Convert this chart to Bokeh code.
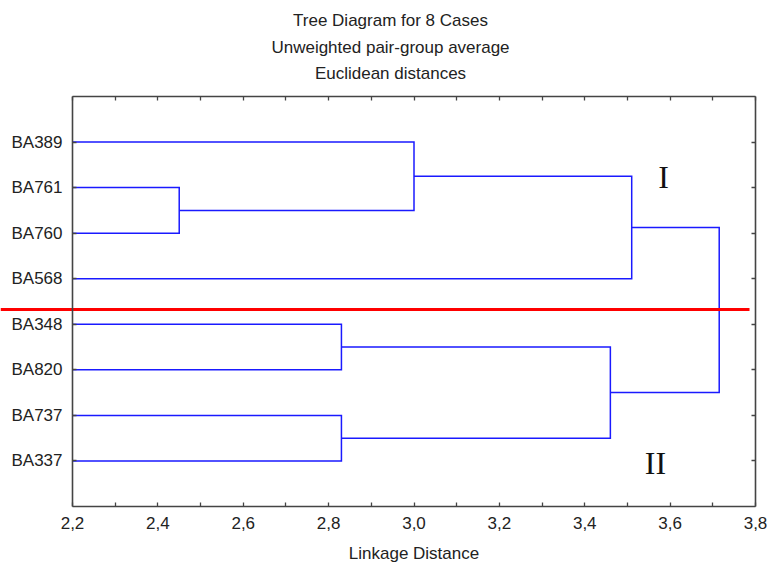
from bokeh.plotting import figure
from bokeh.models import LinearAxis, FixedTicker, Range1d
from bokeh.core.properties import value
from bokeh.embed import file_html
from bokeh.resources import INLINE

# ---------------- data ----------------
leaf_labels = ["BA389", "BA761", "BA760", "BA568", "BA348", "BA820", "BA737", "BA337"]
merge_names = ["C1", "C2", "C3", "C4", "C5", "C6", "C7"]
merge_left = ["BA761", "BA389", "C2", "BA348", "BA737", "C4", "C3"]
merge_right = ["BA760", "C1", "BA568", "BA820", "BA337", "C5", "C6"]
merge_height = [2.45, 3.00, 3.51, 2.83, 2.83, 3.46, 3.715]

x_ticks = [2.2, 2.4, 2.6, 2.8, 3.0, 3.2, 3.4, 3.6, 3.8]
x_tick_labels = ["2,2", "2,4", "2,6", "2,8", "3,0", "3,2", "3,4", "3,6", "3,8"]
x_minor_ticks = [2.3, 2.5, 2.7, 2.9, 3.1, 3.3, 3.5, 3.7]

title_lines = ["Tree Diagram for 8 Cases", "Unweighted pair-group average", "Euclidean distances"]
x_axis_title = "Linkage Distance"
group_names = ["I", "II"]
cut_row = 4.325          # red cut line, in row units (between BA568 and BA348)

# ---------------- layout constants ----------------
W, H = 767, 565
X_MIN, X_MAX = 2.2, 3.8
px_left, px_right = 72, 755
px_top, px_bottom = 96, 506
n = len(leaf_labels)
Y_MIN, Y_MAX = 0, n + 1

xs_per_px = (X_MAX - X_MIN) / (px_right - px_left)
ys_per_px = (Y_MAX - Y_MIN) / (px_bottom - px_top)
x_start = X_MIN - px_left * xs_per_px
x_end = x_start + W * xs_per_px
y_start = Y_MIN - (H - px_bottom) * ys_per_px
y_end = Y_MAX + px_top * ys_per_px


def px_to_x(px):
    return x_start + px * xs_per_px


def py_to_y(py):
    return y_end - py * ys_per_px


p = figure(width=W, height=H, output_backend="svg", toolbar_location=None,
           x_range=Range1d(x_start, x_end), y_range=Range1d(y_start, y_end),
           x_axis_location=None, y_axis_location=None,
           min_border=0, min_border_left=0, min_border_right=0,
           min_border_top=0, min_border_bottom=0)
p.outline_line_color = None
p.xgrid.visible = False
p.ygrid.visible = False
p.background_fill_color = "white"
p.border_fill_color = "white"

FRAME = "#444444"
LABEL_FONT = "Liberation Sans"
FS = "17px"

# ---------------- axes (fixed inside the canvas) ----------------
leaf_pos = {lab: n - i for i, lab in enumerate(leaf_labels)}

xb = LinearAxis(fixed_location=Y_MIN, bounds=(X_MIN, X_MAX),
                ticker=FixedTicker(ticks=x_ticks, minor_ticks=x_minor_ticks),
                major_label_overrides={t: l for t, l in zip(x_ticks, x_tick_labels)},
                axis_label=x_axis_title)
xt = LinearAxis(fixed_location=Y_MAX, bounds=(X_MIN, X_MAX),
                ticker=FixedTicker(ticks=x_ticks, minor_ticks=x_minor_ticks))
yl = LinearAxis(fixed_location=X_MIN, bounds=(Y_MIN, Y_MAX),
                ticker=FixedTicker(ticks=[leaf_pos[l] for l in leaf_labels], minor_ticks=[]),
                major_label_overrides={leaf_pos[l]: l for l in leaf_labels})
yr = LinearAxis(fixed_location=X_MAX, bounds=(Y_MIN, Y_MAX),
                ticker=FixedTicker(ticks=[leaf_pos[l] for l in leaf_labels], minor_ticks=[]))

for ax in (xb, xt, yl, yr):
    ax.axis_line_color = FRAME
    ax.axis_line_width = 1.6
    ax.major_tick_line_color = FRAME
    ax.minor_tick_line_color = FRAME
    ax.major_tick_line_width = 1.3
    ax.minor_tick_line_width = 1.3
    ax.major_tick_in = 4
    ax.major_tick_out = 0
    ax.minor_tick_in = 4
    ax.minor_tick_out = 0
    ax.major_label_text_font = LABEL_FONT
    ax.major_label_text_color = "#222222"
    ax.major_label_text_font_size = FS
    ax.axis_label_text_font = LABEL_FONT
    ax.axis_label_text_font_style = "normal"
    ax.axis_label_text_font_size = FS
    ax.axis_label_text_color = "#222222"

for ax in (xt, yr):
    ax.major_label_text_color = None
    ax.major_label_text_font_size = "0px"

xb.major_label_standoff = 10
xb.axis_label_standoff = 12
yl.major_label_standoff = 10

p.add_layout(xb, "below")
p.add_layout(xt, "above")
p.add_layout(yl, "left")
p.add_layout(yr, "right")

# ---------------- dendrogram ----------------
pos = {lab: (leaf_pos[lab], X_MIN) for lab in leaf_labels}
paths_x, paths_y = [], []
for name, a, b, h in zip(merge_names, merge_left, merge_right, merge_height):
    ya, ha = pos[a]
    yb, hb = pos[b]
    paths_x.append([ha, h, h, hb])
    paths_y.append([ya, ya, yb, yb])
    pos[name] = ((ya + yb) / 2, h)

p.multi_line(xs=paths_x, ys=paths_y, line_color="#1a1aff", line_width=1.5,
             line_join="miter")

# cut line (extends across the label area up to the right frame)
p.line(x=[x_start, px_to_x(749)], y=[cut_row, cut_row], line_color="#ff0000", line_width=3)

# group labels
p.text(x=[px_to_x(663), px_to_x(655)], y=[py_to_y(176), py_to_y(462)], text=group_names,
       text_font=value("Liberation Serif"), text_font_size="32px", text_color="#111111",
       text_align="center", text_baseline="middle")

# titles
p.text(x=[px_to_x(390)] * 3, y=[py_to_y(20), py_to_y(47), py_to_y(73)], text=title_lines,
       text_font=value(LABEL_FONT), text_font_size=FS, text_color="#222222",
       text_align="center", text_baseline="middle")

open("out.html", "w").write(file_html(p, INLINE))
